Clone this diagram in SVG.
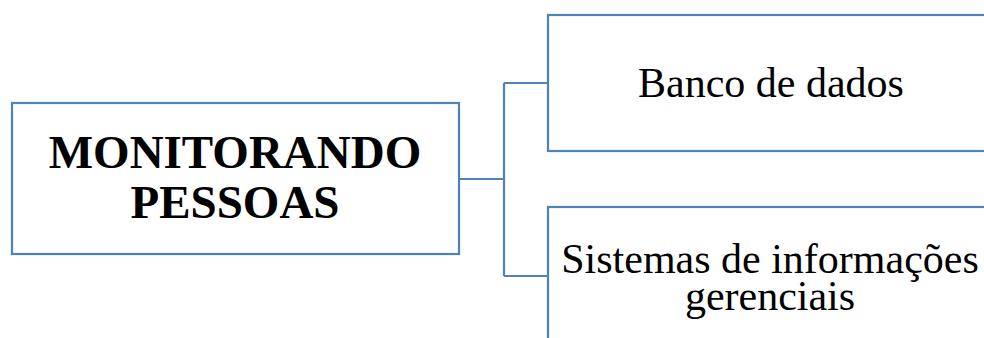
<svg xmlns="http://www.w3.org/2000/svg" width="984" height="338" viewBox="0 0 984 338">
  <style>
    .box { fill: #ffffff; stroke: #4f81bd; stroke-width: 2.2; }
    .link { fill: none; stroke: #4f81bd; stroke-width: 2.2; }
    .title { font-family: "Liberation Serif", "Times New Roman", serif; font-weight: bold; font-size: 47px; fill: #000; text-anchor: middle; }
    .label { font-family: "Liberation Serif", "Times New Roman", serif; font-size: 42px; fill: #000; text-anchor: middle; }
  </style>
  <rect width="984" height="338" fill="#ffffff"/>
  <g id="connectors">
    <path class="link" d="M459 179 H504 M504 83 V276 M504 83 H548 M504 276 H548"/>
  </g>
  <g id="root">
    <rect class="box" x="12" y="103" width="447" height="151"/>
    <text class="title" x="235" y="168">MONITORANDO</text>
    <text class="title" x="235" y="218">PESSOAS</text>
  </g>
  <g id="banco">
    <rect class="box" x="548" y="15" width="446" height="136"/>
    <text class="label" x="771" y="97">Banco de dados</text>
  </g>
  <g id="sistemas">
    <rect class="box" x="548" y="207" width="446" height="136"/>
    <text class="label" x="770" y="273">Sistemas de informações</text>
    <text class="label" x="770" y="310">gerenciais</text>
  </g>
</svg>
